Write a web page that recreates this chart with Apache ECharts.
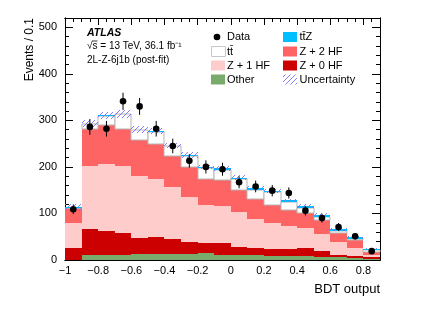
<!DOCTYPE html>
<html><head><meta charset="utf-8">
<script src="https://cdn.jsdelivr.net/npm/echarts@6/dist/echarts.min.js"></script>
<style>html,body{margin:0;padding:0;background:#fff}#c{width:432px;height:310px}</style>
</head><body><div id="c"></div>
<script>
// Bin lower edges (width 0.1)
const binLow = [-1.0,-0.9,-0.8,-0.7,-0.6,-0.5,-0.4,-0.3,-0.2,-0.1,0.0,0.1,0.2,0.3,0.4,0.5,0.6,0.7,0.8];
const binWidth = 0.1;
// Stack components (bottom -> top)
const other = [1,10,10,11,12,12,13,13,15,11,10,10,9,9,8,7,6,5,3];
const z0hf  = [24,56,52,46,36,38,33,26,21,25,18,16,14,14,17,12,5,4,3];
const z1hf  = [54,135,145,146,133,125,111,97,82,80,76,63,57,50,43,36,28,17,5];
const z2hf  = [32,81,84,78,76,75,66,64,57,55,46,43,38,34,32,32,20,18,7];
const ttbar = [1,10,19,32,22,26,21.5,23,23,23,24,19,28,18,12,6,4,2,3];
const ttz   = [1,1,1,1,1,1,1.5,2,2,3,3,3,3,3,4,4,3,3,2];
const uncert = [7,7,8,8,7,7,6,6,5,5,5,4,4,4,4,3,3,3,2];
const dataVals = [109,286,282,341,330,282,245,213,200,195,167,158,149,144,106,90,71,51,19];
const xTickLabels = ['−1','−0.8','−0.6','−0.4','−0.2','0','0.2','0.4','0.6','0.8'];
const yTickLabels = ['0','100','200','300','400','500'];

const FF = '"Liberation Sans", Arial, Helvetica, sans-serif';
const chart = echarts.init(document.getElementById('c'), null, {renderer:'canvas'});

// hatch pattern
const pc = document.createElement('canvas');
pc.width = 5; pc.height = 5;
const g = pc.getContext('2d');
g.strokeStyle = '#7272ff'; g.lineWidth = 0.9;
g.beginPath();
g.moveTo(0,5); g.lineTo(5,0);
g.moveTo(-1,1); g.lineTo(1,-1);
g.moveTo(4,6); g.lineTo(6,4);
g.stroke();
const hatch = {image: pc, repeat: 'repeat'};

// text metrics for the sqrt overline
const mc = document.createElement('canvas').getContext('2d');
mc.font = '10px ' + FF;
const wRad = mc.measureText('√').width;
const wRadS = mc.measureText('√s').width;

const comps = [other, z0hf, z1hf, z2hf, ttbar, ttz];
const fills = ['#78ab6c','#cc0000','#ffcccc','#ff6464','#ffffff','#00bfff'];
const strokes = [null,null,null,null,'#b5b5b5',null];
const base = binLow.map(()=>0);
const series = [];
function rectSeries(name, data, fill, stroke, z) {
  return {
    type:'custom', name, data, encode:{x:[0,1], y:[2,3]}, z, silent:true, animation:false,
    renderItem(params, api) {
      const a = api.coord([api.value(0), api.value(2)]);
      const b = api.coord([api.value(1), api.value(3)]);
      const x0 = Math.round(a[0]), x1 = Math.round(b[0]);
      const y0 = Math.round(a[1]), y1 = Math.round(b[1]);
      return {type:'rect', shape:{x:x0, y:y1, width:x1-x0, height:y0-y1},
        style:{fill, stroke: stroke||null, lineWidth: stroke?1:0}};
    }
  };
}
comps.forEach((arr, k) => {
  const d = binLow.map((lo,i) => { const r=[lo, lo+binWidth, base[i], base[i]+arr[i]]; base[i]+=arr[i]; return r; });
  series.push(rectSeries('c'+k, d, fills[k], strokes[k], 2+k*0.01));
});
const uncData = binLow.map((lo,i)=>[lo, lo+binWidth, base[i]-uncert[i], base[i]+uncert[i]]);
series.push(rectSeries('unc', uncData, hatch, null, 3));
series.push({
  type:'custom', name:'Data', z:4, silent:true, animation:false,
  data: binLow.map((lo,i)=>[lo+binWidth/2, dataVals[i], dataVals[i]-Math.sqrt(dataVals[i]), dataVals[i]+Math.sqrt(dataVals[i])]),
  encode:{x:0, y:[1,2,3]},
  renderItem(params, api){
    const p = api.coord([api.value(0), api.value(1)]);
    const l = api.coord([api.value(0), api.value(2)]);
    const h = api.coord([api.value(0), api.value(3)]);
    return {type:'group', children:[
      {type:'line', shape:{x1:p[0], y1:l[1], x2:p[0], y2:h[1]}, style:{stroke:'#000', lineWidth:1}},
      {type:'circle', shape:{cx:p[0], cy:p[1], r:3.3}, style:{fill:'#000'}}
    ]};
  }
});

function xAx(pos, interval, len, labels) {
  return {type:'value', position:pos, min:-1, max:0.9, interval,
    axisLine:{show:true, onZero:false, lineStyle:{color:'#000', width:1}},
    axisTick:{show:true, inside:true, length:len, lineStyle:{color:'#000', width:1}},
    axisLabel:{show:labels, color:'#000', fontSize:11, fontFamily:FF, margin:5,
      formatter: v => { const k = Math.round((v+1)/0.2); return Math.abs(v-(-1+k*0.2))<1e-6 && k<xTickLabels.length ? xTickLabels[k] : ''; }},
    splitLine:{show:false}};
}
function yAx(pos, interval, len, labels) {
  return {type:'value', position:pos, min:0, max:520, interval,
    axisLine:{show:true, onZero:false, lineStyle:{color:'#000', width:1}},
    axisTick:{show:true, inside:true, length:len, lineStyle:{color:'#000', width:1}},
    axisLabel:{show:labels, color:'#000', fontSize:11, fontFamily:FF, margin:8,
      formatter: v => { const k = Math.round(v/100); return Math.abs(v-k*100)<1e-6 && k<yTickLabels.length ? yTickLabels[k] : ''; }},
    splitLine:{show:false}};
}

const legX1 = 211, legT1 = 227, legX2 = 283, legT2 = 299.5;
const rows = [37, 51.5, 65.5, 79.5];
function lrect(x,y,fill,stroke){ return {type:'rect', shape:{x:x, y:y-5, width:14, height:10}, style:{fill, stroke:stroke||null, lineWidth:stroke?1:0}}; }
function ltext(x,y,t){ return {type:'text', x, y, style:{text:t, fontSize:11, fontFamily:FF, fill:'#000', verticalAlign:'middle'}}; }

const graphic = [
  {type:'text', x:87, y:33, style:{text:'ATLAS', fontSize:10.5, fontWeight:'bold', fontStyle:'italic', fontFamily:FF, fill:'#000', verticalAlign:'middle'}},
  {type:'text', x:87, y:46, style:{text:'√s = 13 TeV, 36.1 fb⁻¹', fontSize:10, fontFamily:FF, fill:'#000', verticalAlign:'middle'}},
  {type:'line', shape:{x1:87+wRad-0.5, y1:41, x2:87+wRadS, y2:41}, style:{stroke:'#000', lineWidth:0.8}},
  {type:'text', x:87, y:60.5, style:{text:'2L-Z-6j1b (post-fit)', fontSize:10, fontFamily:FF, fill:'#000', verticalAlign:'middle'}},
  {type:'circle', shape:{cx:217, cy:rows[0], r:3.3}, style:{fill:'#000'}},
  ltext(legT1, rows[0], 'Data'),
  lrect(legX1+0.5, rows[1], '#fff', '#c8c8c8'), ltext(legT1, rows[1], 'tt̄'),
  lrect(legX1, rows[2], '#ffcccc'), ltext(legT1, rows[2], 'Z + 1 HF'),
  lrect(legX1, rows[3], '#78ab6c'), ltext(legT1, rows[3], 'Other'),
  lrect(legX2, rows[0], '#00bfff'), ltext(legT2, rows[0], 'tt̄Z'),
  lrect(legX2, rows[1], '#ff6464'), ltext(legT2, rows[1], 'Z + 2 HF'),
  lrect(legX2, rows[2], '#cc0000'), ltext(legT2, rows[2], 'Z + 0 HF'),
  lrect(legX2, rows[3], hatch), ltext(legT2, rows[3], 'Uncertainty'),
  {type:'text', x:30, y:18, rotation:Math.PI/2, style:{text:'Events / 0.1', fontSize:12, fontFamily:FF, fill:'#000', align:'right', verticalAlign:'middle'}},
  {type:'text', x:380, y:289, style:{text:'BDT output', fontSize:13, fontFamily:FF, fill:'#000', align:'right', verticalAlign:'middle'}}
];

chart.setOption({
  animation:false,
  backgroundColor:'#fff',
  grid:{left:65, right:52, top:18, bottom:50},
  xAxis:[xAx('bottom',0.2,7,true), xAx('bottom',0.05,4,false), xAx('top',0.2,7,false), xAx('top',0.05,4,false)],
  yAxis:[yAx('left',100,8,true), yAx('left',20,4,false), yAx('right',100,8,false), yAx('right',20,4,false)],
  series,
  graphic
});
</script></body></html>
